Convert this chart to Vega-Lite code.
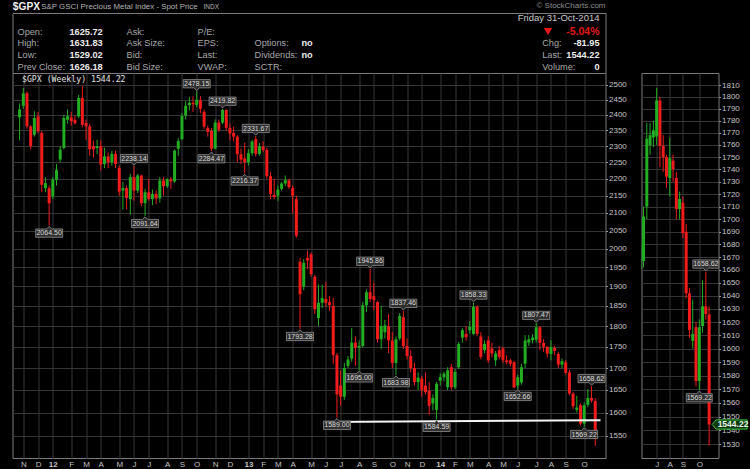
{
  "$schema": "https://vega.github.io/schema/vega-lite/v6.json",
  "background": "#000000",
  "padding": {"left": 11.5, "top": 1, "right": 0, "bottom": 0},
  "config": {
    "view": {"stroke": "#7a7a7a", "strokeWidth": 1},
    "axis": {"labelFont": "Liberation Sans", "labelFontSize": 8, "labelColor": "#c4c4c4", "gridColor": "#363636", "gridWidth": 1, "domain": false, "title": null, "labelOverlap": false}
  },
  "datasets": {
    "ohlc": [
      {"d":"2011-10-31","o":2392,"h":2438,"l":2318,"c":2418},
      {"d":"2011-11-07","o":2430,"h":2490,"l":2420,"c":2472},
      {"d":"2011-11-14","o":2472,"h":2478,"l":2355,"c":2363},
      {"d":"2011-11-21","o":2363,"h":2366,"l":2290,"c":2300},
      {"d":"2011-11-28","o":2336,"h":2412,"l":2330,"c":2390},
      {"d":"2011-12-05","o":2395,"h":2410,"l":2340,"c":2347},
      {"d":"2011-12-12","o":2342,"h":2348,"l":2160,"c":2182},
      {"d":"2011-12-19","o":2172,"h":2205,"l":2160,"c":2187},
      {"d":"2011-12-26","o":2172,"h":2180,"l":2064.5,"c":2128},
      {"d":"2012-01-02","o":2148,"h":2205,"l":2140,"c":2197},
      {"d":"2012-01-09","o":2197,"h":2245,"l":2180,"c":2227},
      {"d":"2012-01-16","o":2258,"h":2300,"l":2250,"c":2289},
      {"d":"2012-01-23","o":2294,"h":2400,"l":2290,"c":2390},
      {"d":"2012-01-30","o":2384,"h":2418,"l":2372,"c":2396},
      {"d":"2012-02-06","o":2392,"h":2410,"l":2365,"c":2380},
      {"d":"2012-02-13","o":2384,"h":2398,"l":2368,"c":2373},
      {"d":"2012-02-20","o":2395,"h":2466,"l":2390,"c":2456},
      {"d":"2012-02-27","o":2456,"h":2496,"l":2360,"c":2368},
      {"d":"2012-03-05","o":2374,"h":2385,"l":2320,"c":2363},
      {"d":"2012-03-12","o":2363,"h":2370,"l":2270,"c":2290},
      {"d":"2012-03-19","o":2300,"h":2318,"l":2265,"c":2290},
      {"d":"2012-03-26","o":2294,"h":2320,"l":2275,"c":2300},
      {"d":"2012-04-02","o":2300,"h":2318,"l":2225,"c":2243},
      {"d":"2012-04-09","o":2245,"h":2295,"l":2232,"c":2268},
      {"d":"2012-04-16","o":2268,"h":2280,"l":2232,"c":2250},
      {"d":"2012-04-23","o":2250,"h":2285,"l":2240,"c":2276},
      {"d":"2012-04-30","o":2276,"h":2286,"l":2232,"c":2245},
      {"d":"2012-05-07","o":2233,"h":2240,"l":2150,"c":2162},
      {"d":"2012-05-14","o":2165,"h":2190,"l":2110,"c":2172},
      {"d":"2012-05-21","o":2172,"h":2180,"l":2110,"c":2143},
      {"d":"2012-05-28","o":2140,"h":2215,"l":2095,"c":2205},
      {"d":"2012-06-04","o":2205,"h":2238.14,"l":2135,"c":2165},
      {"d":"2012-06-11","o":2165,"h":2215,"l":2158,"c":2210},
      {"d":"2012-06-18","o":2210,"h":2212,"l":2120,"c":2128},
      {"d":"2012-06-25","o":2128,"h":2170,"l":2091.64,"c":2160},
      {"d":"2012-07-02","o":2160,"h":2200,"l":2135,"c":2140},
      {"d":"2012-07-09","o":2140,"h":2168,"l":2122,"c":2155},
      {"d":"2012-07-16","o":2155,"h":2165,"l":2125,"c":2142},
      {"d":"2012-07-23","o":2142,"h":2205,"l":2130,"c":2195},
      {"d":"2012-07-30","o":2195,"h":2205,"l":2150,"c":2178},
      {"d":"2012-08-06","o":2178,"h":2202,"l":2172,"c":2198},
      {"d":"2012-08-13","o":2198,"h":2205,"l":2170,"c":2192},
      {"d":"2012-08-20","o":2192,"h":2290,"l":2188,"c":2286},
      {"d":"2012-08-27","o":2292,"h":2325,"l":2270,"c":2316},
      {"d":"2012-09-03","o":2322,"h":2405,"l":2318,"c":2396},
      {"d":"2012-09-10","o":2398,"h":2445,"l":2385,"c":2430},
      {"d":"2012-09-17","o":2432,"h":2460,"l":2415,"c":2440},
      {"d":"2012-09-24","o":2440,"h":2462,"l":2410,"c":2435},
      {"d":"2012-10-01","o":2433,"h":2478.15,"l":2425,"c":2450},
      {"d":"2012-10-08","o":2448,"h":2462,"l":2405,"c":2420},
      {"d":"2012-10-15","o":2410,"h":2418,"l":2355,"c":2362},
      {"d":"2012-10-22","o":2358,"h":2365,"l":2330,"c":2345},
      {"d":"2012-10-29","o":2348,"h":2358,"l":2284.47,"c":2292},
      {"d":"2012-11-05","o":2292,"h":2385,"l":2290,"c":2375},
      {"d":"2012-11-12","o":2375,"h":2385,"l":2345,"c":2352},
      {"d":"2012-11-19","o":2375,"h":2419.82,"l":2370,"c":2416},
      {"d":"2012-11-26","o":2416,"h":2418,"l":2350,"c":2358},
      {"d":"2012-12-03","o":2358,"h":2372,"l":2318,"c":2340},
      {"d":"2012-12-10","o":2342,"h":2362,"l":2315,"c":2330},
      {"d":"2012-12-17","o":2330,"h":2335,"l":2250,"c":2275},
      {"d":"2012-12-24","o":2275,"h":2292,"l":2245,"c":2258},
      {"d":"2012-12-31","o":2262,"h":2310,"l":2216.37,"c":2250},
      {"d":"2013-01-07","o":2250,"h":2290,"l":2240,"c":2278},
      {"d":"2013-01-14","o":2278,"h":2320,"l":2270,"c":2315},
      {"d":"2013-01-21","o":2322,"h":2331.67,"l":2268,"c":2276},
      {"d":"2013-01-28","o":2276,"h":2310,"l":2270,"c":2300},
      {"d":"2013-02-04","o":2298,"h":2315,"l":2280,"c":2288},
      {"d":"2013-02-11","o":2288,"h":2295,"l":2200,"c":2208},
      {"d":"2013-02-18","o":2208,"h":2220,"l":2140,"c":2155},
      {"d":"2013-02-25","o":2152,"h":2200,"l":2140,"c":2146},
      {"d":"2013-03-04","o":2150,"h":2180,"l":2135,"c":2168},
      {"d":"2013-03-11","o":2170,"h":2190,"l":2165,"c":2186},
      {"d":"2013-03-18","o":2186,"h":2210,"l":2178,"c":2196},
      {"d":"2013-03-25","o":2195,"h":2200,"l":2170,"c":2175},
      {"d":"2013-04-01","o":2172,"h":2180,"l":2100,"c":2150},
      {"d":"2013-04-08","o":2140,"h":2150,"l":2030,"c":2036},
      {"d":"2013-04-15","o":1965,"h":1975,"l":1793.28,"c":1880},
      {"d":"2013-04-22","o":1900,"h":1972,"l":1890,"c":1962},
      {"d":"2013-04-29","o":1975,"h":1995,"l":1945,"c":1968},
      {"d":"2013-05-06","o":1985,"h":1990,"l":1925,"c":1932},
      {"d":"2013-05-13","o":1925,"h":1930,"l":1830,"c":1842},
      {"d":"2013-05-20","o":1820,"h":1905,"l":1800,"c":1858},
      {"d":"2013-05-27","o":1858,"h":1905,"l":1845,"c":1870},
      {"d":"2013-06-03","o":1868,"h":1912,"l":1848,"c":1858},
      {"d":"2013-06-10","o":1860,"h":1875,"l":1838,"c":1852},
      {"d":"2013-06-17","o":1850,"h":1870,"l":1710,"c":1730},
      {"d":"2013-06-24","o":1730,"h":1735,"l":1589.0,"c":1640},
      {"d":"2013-07-01","o":1660,"h":1695,"l":1615,"c":1635},
      {"d":"2013-07-08","o":1635,"h":1712,"l":1628,"c":1700},
      {"d":"2013-07-15","o":1705,"h":1728,"l":1700,"c":1720},
      {"d":"2013-07-22","o":1722,"h":1795,"l":1715,"c":1760},
      {"d":"2013-07-29","o":1760,"h":1775,"l":1705,"c":1748},
      {"d":"2013-08-05","o":1748,"h":1765,"l":1695.0,"c":1752},
      {"d":"2013-08-12","o":1752,"h":1860,"l":1748,"c":1852},
      {"d":"2013-08-19","o":1852,"h":1892,"l":1835,"c":1885},
      {"d":"2013-08-26","o":1885,"h":1945.86,"l":1860,"c":1868},
      {"d":"2013-09-02","o":1875,"h":1910,"l":1840,"c":1865},
      {"d":"2013-09-09","o":1860,"h":1862,"l":1760,"c":1768},
      {"d":"2013-09-16","o":1768,"h":1850,"l":1745,"c":1800},
      {"d":"2013-09-23","o":1785,"h":1815,"l":1770,"c":1802},
      {"d":"2013-09-30","o":1800,"h":1830,"l":1735,"c":1765},
      {"d":"2013-10-07","o":1765,"h":1785,"l":1700,"c":1712},
      {"d":"2013-10-14","o":1712,"h":1775,"l":1683.98,"c":1768},
      {"d":"2013-10-21","o":1770,"h":1832,"l":1765,"c":1825},
      {"d":"2013-10-28","o":1822,"h":1837.46,"l":1745,"c":1752},
      {"d":"2013-11-04","o":1752,"h":1770,"l":1720,"c":1728},
      {"d":"2013-11-11","o":1728,"h":1742,"l":1690,"c":1700},
      {"d":"2013-11-18","o":1700,"h":1712,"l":1660,"c":1668},
      {"d":"2013-11-25","o":1668,"h":1690,"l":1650,"c":1678},
      {"d":"2013-12-02","o":1676,"h":1682,"l":1635,"c":1650},
      {"d":"2013-12-09","o":1660,"h":1690,"l":1640,"c":1645},
      {"d":"2013-12-16","o":1648,"h":1668,"l":1595,"c":1615},
      {"d":"2013-12-23","o":1620,"h":1640,"l":1605,"c":1632},
      {"d":"2013-12-30","o":1606,"h":1668,"l":1584.59,"c":1664},
      {"d":"2014-01-06","o":1671,"h":1688,"l":1660,"c":1679},
      {"d":"2014-01-13","o":1679,"h":1692,"l":1670,"c":1687},
      {"d":"2014-01-20","o":1656,"h":1702,"l":1650,"c":1695},
      {"d":"2014-01-27","o":1702,"h":1710,"l":1650,"c":1656},
      {"d":"2014-02-03","o":1656,"h":1698,"l":1652,"c":1691},
      {"d":"2014-02-10","o":1702,"h":1762,"l":1698,"c":1757},
      {"d":"2014-02-17","o":1772,"h":1795,"l":1760,"c":1790},
      {"d":"2014-02-24","o":1781,"h":1800,"l":1765,"c":1773},
      {"d":"2014-03-03","o":1790,"h":1812,"l":1782,"c":1798},
      {"d":"2014-03-10","o":1781,"h":1858.33,"l":1778,"c":1848},
      {"d":"2014-03-17","o":1848,"h":1852,"l":1775,"c":1781},
      {"d":"2014-03-24","o":1775,"h":1785,"l":1720,"c":1726},
      {"d":"2014-03-31","o":1742,"h":1765,"l":1735,"c":1757},
      {"d":"2014-04-07","o":1765,"h":1775,"l":1712,"c":1718},
      {"d":"2014-04-14","o":1746,"h":1760,"l":1725,"c":1734},
      {"d":"2014-04-21","o":1718,"h":1740,"l":1705,"c":1734},
      {"d":"2014-04-28","o":1742,"h":1752,"l":1720,"c":1726},
      {"d":"2014-05-05","o":1746,"h":1750,"l":1712,"c":1718},
      {"d":"2014-05-12","o":1718,"h":1730,"l":1708,"c":1714},
      {"d":"2014-05-19","o":1718,"h":1722,"l":1704,"c":1710},
      {"d":"2014-05-26","o":1714,"h":1716,"l":1654,"c":1656},
      {"d":"2014-06-02","o":1660,"h":1685,"l":1652.66,"c":1679},
      {"d":"2014-06-09","o":1667,"h":1710,"l":1662,"c":1702},
      {"d":"2014-06-16","o":1710,"h":1778,"l":1700,"c":1765},
      {"d":"2014-06-23","o":1760,"h":1778,"l":1752,"c":1768},
      {"d":"2014-06-30","o":1766,"h":1780,"l":1758,"c":1772},
      {"d":"2014-07-07","o":1767,"h":1807.47,"l":1760,"c":1797},
      {"d":"2014-07-14","o":1797,"h":1800,"l":1742,"c":1759},
      {"d":"2014-07-21","o":1759,"h":1768,"l":1738,"c":1750},
      {"d":"2014-07-28","o":1750,"h":1752,"l":1725,"c":1734},
      {"d":"2014-08-04","o":1733,"h":1766,"l":1718,"c":1749},
      {"d":"2014-08-11","o":1747,"h":1752,"l":1730,"c":1740},
      {"d":"2014-08-18","o":1733,"h":1738,"l":1700,"c":1708},
      {"d":"2014-08-25","o":1708,"h":1722,"l":1700,"c":1716},
      {"d":"2014-09-01","o":1713,"h":1718,"l":1685,"c":1689},
      {"d":"2014-09-08","o":1690,"h":1696,"l":1638,"c":1642},
      {"d":"2014-09-15","o":1642,"h":1646,"l":1608,"c":1614},
      {"d":"2014-09-22","o":1606,"h":1637,"l":1600,"c":1611},
      {"d":"2014-09-29","o":1616,"h":1620,"l":1572,"c":1576},
      {"d":"2014-10-06","o":1576,"h":1622,"l":1569.22,"c":1616},
      {"d":"2014-10-13","o":1617,"h":1652,"l":1612,"c":1632},
      {"d":"2014-10-20","o":1632,"h":1658.62,"l":1622,"c":1626.18},
      {"d":"2014-10-27","o":1625.72,"h":1631.83,"l":1529.02,"c":1544.22}
    ],
    "pivots": [
      {"d":"2011-12-26","v":2064.50,"k":"low"},
      {"d":"2012-06-04","v":2238.14,"k":"high"},
      {"d":"2012-06-25","v":2091.64,"k":"low"},
      {"d":"2012-10-01","v":2478.15,"k":"high"},
      {"d":"2012-10-29","v":2284.47,"k":"low"},
      {"d":"2012-11-19","v":2419.82,"k":"high"},
      {"d":"2012-12-31","v":2216.37,"k":"low"},
      {"d":"2013-01-21","v":2331.67,"k":"high"},
      {"d":"2013-04-15","v":1793.28,"k":"low"},
      {"d":"2013-06-24","v":1589.00,"k":"low"},
      {"d":"2013-08-05","v":1695.00,"k":"low"},
      {"d":"2013-08-26","v":1945.86,"k":"high"},
      {"d":"2013-10-14","v":1683.98,"k":"low"},
      {"d":"2013-10-28","v":1837.46,"k":"high"},
      {"d":"2013-12-30","v":1584.59,"k":"low"},
      {"d":"2014-03-10","v":1858.33,"k":"high"},
      {"d":"2014-06-02","v":1652.66,"k":"low"},
      {"d":"2014-07-07","v":1807.47,"k":"high"},
      {"d":"2014-10-06","v":1569.22,"k":"low"},
      {"d":"2014-10-20","v":1658.62,"k":"high"}
    ],
    "support": [
      {"d":"2013-06-02","p":1579.5},
      {"d":"2014-11-06","p":1583.5}
    ],
    "header": [
      {"row":0,"col":0,"role":"symbol","text":"$GPX"},
      {"row":0,"col":2,"role":"name","text":"S&P GSCI Precious Metal Index - Spot Price"},
      {"row":0,"col":6,"role":"exch","text":"INDX"},
      {"row":0,"col":11,"role":"credit","text":"© StockCharts.com"},
      {"row":1,"col":11,"role":"date","text":"Friday  31-Oct-2014"},
      {"row":2,"col":1,"role":"label","text":"Open:"},
      {"row":2,"col":3,"role":"value","text":"1625.72"},
      {"row":2,"col":4,"role":"label","text":"Ask:"},
      {"row":2,"col":5,"role":"label","text":"P/E:"},
      {"row":2,"col":10,"role":"arrow","text":"down"},
      {"row":2,"col":11,"role":"change","text":"-5.04%"},
      {"row":3,"col":1,"role":"label","text":"High:"},
      {"row":3,"col":3,"role":"value","text":"1631.83"},
      {"row":3,"col":4,"role":"label","text":"Ask Size:"},
      {"row":3,"col":5,"role":"label","text":"EPS:"},
      {"row":3,"col":7,"role":"label","text":"Options:"},
      {"row":3,"col":8,"role":"value","text":"no"},
      {"row":3,"col":9,"role":"label","text":"Chg:"},
      {"row":3,"col":11,"role":"quote","text":"-81.95"},
      {"row":4,"col":1,"role":"label","text":"Low:"},
      {"row":4,"col":3,"role":"value","text":"1529.02"},
      {"row":4,"col":4,"role":"label","text":"Bid:"},
      {"row":4,"col":5,"role":"label","text":"Last:"},
      {"row":4,"col":7,"role":"label","text":"Dividends:"},
      {"row":4,"col":8,"role":"value","text":"no"},
      {"row":4,"col":9,"role":"label","text":"Last:"},
      {"row":4,"col":11,"role":"quote","text":"1544.22"},
      {"row":5,"col":1,"role":"label","text":"Prev Close:"},
      {"row":5,"col":3,"role":"value","text":"1626.18"},
      {"row":5,"col":4,"role":"label","text":"Bid Size:"},
      {"row":5,"col":5,"role":"label","text":"VWAP:"},
      {"row":5,"col":7,"role":"label","text":"SCTR:"},
      {"row":5,"col":9,"role":"label","text":"Volume:"},
      {"row":5,"col":11,"role":"quote","text":"0"}
    ]
  },
  "vconcat": [
    {
      "width": 593,
      "height": 60,
      "data": {"name": "header"},
      "encoding": {
        "x": {"field": "col", "type": "quantitative", "axis": null,
              "scale": {"domain": [0,1,2,3,4,5,6,7,8,9,10,11], "range": [0.3,5,28.7,57,114,185,191,242,289,529.7,535.5,587], "zero": false, "nice": false}},
        "y": {"field": "row", "type": "quantitative", "axis": null,
              "scale": {"domain": [0,1,2,3,4,5], "range": [-6.3,5.3,18.7,30.3,42,53.7], "zero": false, "nice": false}}
      },
      "layer": [
        {"data": {"values": [{"edge": "top"}]}, "mark": {"type": "rule", "color": "#7a7a7a", "strokeWidth": 1},
         "encoding": {"x": {"datum": -0.064, "type": "quantitative"}, "x2": {"datum": 11.1165}, "y": {"datum": 0.543, "type": "quantitative"}}},
        {"data": {"values": [{"edge": "left"}]}, "mark": {"type": "rule", "color": "#7a7a7a", "strokeWidth": 1},
         "encoding": {"x": {"datum": -0.064, "type": "quantitative"}, "y": {"datum": 0.543, "type": "quantitative"}, "y2": {"datum": 5.538}}},
        {"data": {"values": [{"edge": "right"}]}, "mark": {"type": "rule", "color": "#7a7a7a", "strokeWidth": 1},
         "encoding": {"x": {"datum": 11.1165, "type": "quantitative"}, "y": {"datum": 0.543, "type": "quantitative"}, "y2": {"datum": 5.538}}},
        {"transform": [{"filter": "datum.role == 'symbol'"}], "mark": {"type": "text", "align": "left", "baseline": "middle", "font": "Liberation Sans", "fontSize": 10.2, "fontWeight": "bold", "color": "#f2f2f2"}, "encoding": {"text": {"field": "text"}}},
        {"transform": [{"filter": "datum.role == 'name'"}], "mark": {"type": "text", "align": "left", "baseline": "middle", "font": "Liberation Sans", "fontSize": 7.9, "color": "#b4b4b4"}, "encoding": {"text": {"field": "text"}}},
        {"transform": [{"filter": "datum.role == 'exch'"}], "mark": {"type": "text", "align": "left", "baseline": "middle", "font": "Liberation Sans", "fontSize": 6.5, "color": "#b4b4b4"}, "encoding": {"text": {"field": "text"}}},
        {"transform": [{"filter": "datum.role == 'credit'"}], "mark": {"type": "text", "align": "right", "baseline": "middle", "dx": 6, "dy": -1, "font": "Liberation Sans", "fontSize": 8, "color": "#8e8e8e"}, "encoding": {"text": {"field": "text"}}},
        {"transform": [{"filter": "datum.role == 'date'"}], "mark": {"type": "text", "align": "right", "baseline": "middle", "font": "Liberation Sans", "fontSize": 9.5, "color": "#c8c8c8"}, "encoding": {"text": {"field": "text"}}},
        {"transform": [{"filter": "datum.role == 'label'"}], "mark": {"type": "text", "align": "left", "baseline": "middle", "font": "Liberation Sans", "fontSize": 9.2, "color": "#a8a8a8"}, "encoding": {"text": {"field": "text"}}},
        {"transform": [{"filter": "datum.role == 'value'"}], "mark": {"type": "text", "align": "left", "baseline": "middle", "font": "Liberation Sans", "fontSize": 9.2, "fontWeight": "bold", "color": "#ececec"}, "encoding": {"text": {"field": "text"}}},
        {"transform": [{"filter": "datum.role == 'quote'"}], "mark": {"type": "text", "align": "right", "baseline": "middle", "font": "Liberation Sans", "fontSize": 9.2, "fontWeight": "bold", "color": "#ececec"}, "encoding": {"text": {"field": "text"}}},
        {"transform": [{"filter": "datum.role == 'change'"}], "mark": {"type": "text", "align": "right", "baseline": "middle", "font": "Liberation Sans", "fontSize": 10.5, "fontWeight": "bold", "color": "#e01818"}, "encoding": {"text": {"field": "text"}}},
        {"transform": [{"filter": "datum.role == 'arrow'"}], "mark": {"type": "point", "shape": "triangle-down", "size": 70, "filled": true, "color": "#e01818", "opacity": 1}}
      ]
    },
    {
      "hconcat": [
        {
          "width": 593,
          "height": 385,
          "data": {"name": "ohlc"},
          "title": {"text": "$GPX (Weekly) 1544.22", "anchor": "start", "frame": "group", "orient": "top", "offset": -15, "dx": 9.5, "baseline": "middle", "font": "DejaVu Sans Mono", "fontSize": 8.2, "fontWeight": "normal", "color": "#e2e2e2"},
          "encoding": {
            "x": {"field": "d", "type": "temporal",
                  "scale": {"type": "utc", "domain": [{"year":2011,"month":10,"date":27,"utc":true},{"year":2014,"month":11,"date":6,"utc":true}]},
                  "axis": {"grid": true, "ticks": false, "labelPadding": 2,
                           "labelExpr": "utcmonth(datum.value) == 0 ? utcFormat(datum.value, '%y') : slice(utcFormat(datum.value, '%b'), 0, 1)",
                           "labelFontWeight": {"condition": {"test": "utcmonth(datum.value) == 0", "value": "bold"}, "value": "normal"},
                           "values": [
                             {"year":2011,"month":11,"date":7,"utc":true},{"year":2011,"month":12,"date":5,"utc":true},
                             {"year":2012,"month":1,"date":2,"utc":true},{"year":2012,"month":2,"date":6,"utc":true},{"year":2012,"month":3,"date":5,"utc":true},{"year":2012,"month":4,"date":2,"utc":true},{"year":2012,"month":5,"date":7,"utc":true},{"year":2012,"month":6,"date":4,"utc":true},{"year":2012,"month":7,"date":2,"utc":true},{"year":2012,"month":8,"date":6,"utc":true},{"year":2012,"month":9,"date":3,"utc":true},{"year":2012,"month":10,"date":1,"utc":true},{"year":2012,"month":11,"date":5,"utc":true},{"year":2012,"month":12,"date":3,"utc":true},
                             {"year":2013,"month":1,"date":7,"utc":true},{"year":2013,"month":2,"date":4,"utc":true},{"year":2013,"month":3,"date":4,"utc":true},{"year":2013,"month":4,"date":1,"utc":true},{"year":2013,"month":5,"date":6,"utc":true},{"year":2013,"month":6,"date":3,"utc":true},{"year":2013,"month":7,"date":1,"utc":true},{"year":2013,"month":8,"date":5,"utc":true},{"year":2013,"month":9,"date":2,"utc":true},{"year":2013,"month":10,"date":7,"utc":true},{"year":2013,"month":11,"date":4,"utc":true},{"year":2013,"month":12,"date":2,"utc":true},
                             {"year":2014,"month":1,"date":6,"utc":true},{"year":2014,"month":2,"date":3,"utc":true},{"year":2014,"month":3,"date":3,"utc":true},{"year":2014,"month":4,"date":7,"utc":true},{"year":2014,"month":5,"date":5,"utc":true},{"year":2014,"month":6,"date":2,"utc":true},{"year":2014,"month":7,"date":7,"utc":true},{"year":2014,"month":8,"date":4,"utc":true},{"year":2014,"month":9,"date":1,"utc":true},{"year":2014,"month":10,"date":6,"utc":true}
                           ]}}
          },
          "layer": [
            {
              "mark": {"type": "rule", "strokeWidth": 1},
              "encoding": {
                "y": {"field": "l", "type": "quantitative",
                      "scale": {"type": "log", "domain": [1504, 2541], "nice": false},
                      "axis": {"orient": "right", "grid": true, "tickSize": 2, "tickColor": "#9a9a9a", "labelPadding": 1, "format": "d",
                               "values": [1550,1600,1650,1700,1750,1800,1850,1900,1950,2000,2050,2100,2150,2200,2250,2300,2350,2400,2450,2500]}},
                "y2": {"field": "h"},
                "color": {"condition": {"test": "datum.c >= datum.o", "value": "#22ad22"}, "value": "#f01c1c"}
              }
            },
            {
              "mark": {"type": "bar", "width": 3},
              "encoding": {
                "y": {"field": "o", "type": "quantitative"},
                "y2": {"field": "c"},
                "color": {"condition": {"test": "datum.c >= datum.o", "value": "#22ad22"}, "value": "#f01c1c"}
              }
            },
            {
              "data": {"name": "support"},
              "mark": {"type": "line", "color": "#f4f4f4", "strokeWidth": 2},
              "encoding": {"y": {"field": "p", "type": "quantitative"}}
            },
            {
              "data": {"name": "pivots"},
              "transform": [{"filter": "datum.k == 'high'"}],
              "mark": {"type": "point", "shape": "M-13.5,-11.8L13.5,-11.8L13.5,-3.5L2.6,-3.5L0,-0.9L-2.6,-3.5L-13.5,-3.5Z", "size": 4, "fill": "#2f2f2f", "stroke": "#8e8e8e", "strokeWidth": 0.8, "opacity": 1, "fillOpacity": 1},
              "encoding": {"y": {"field": "v", "type": "quantitative"}}
            },
            {
              "data": {"name": "pivots"},
              "transform": [{"filter": "datum.k == 'low'"}],
              "mark": {"type": "point", "shape": "M-13.5,11.8L13.5,11.8L13.5,3.5L2.6,3.5L0,0.9L-2.6,3.5L-13.5,3.5Z", "size": 4, "fill": "#2f2f2f", "stroke": "#8e8e8e", "strokeWidth": 0.8, "opacity": 1, "fillOpacity": 1},
              "encoding": {"y": {"field": "v", "type": "quantitative"}}
            },
            {
              "data": {"name": "pivots"},
              "transform": [{"filter": "datum.k == 'high'"}],
              "mark": {"type": "text", "dy": -7.6, "baseline": "middle", "align": "center", "font": "Liberation Sans", "fontSize": 7, "color": "#dadada"},
              "encoding": {"y": {"field": "v", "type": "quantitative"}, "text": {"field": "v", "type": "quantitative", "format": ".2f"}}
            },
            {
              "data": {"name": "pivots"},
              "transform": [{"filter": "datum.k == 'low'"}],
              "mark": {"type": "text", "dy": 7.8, "baseline": "middle", "align": "center", "font": "Liberation Sans", "fontSize": 7, "color": "#dadada"},
              "encoding": {"y": {"field": "v", "type": "quantitative"}, "text": {"field": "v", "type": "quantitative", "format": ".2f"}}
            },
            {
              "data": {"values": [{"item": "legend icon"}]},
              "mark": {"type": "point", "shape": "square", "size": 30, "filled": true, "color": "#2e9a2e", "opacity": 1},
              "encoding": {"x": {"datum": {"year":2011,"month":11,"date":5,"utc":true}, "type": "temporal"}, "y": {"datum": 2518, "type": "quantitative"}}
            }
          ]
        },
        {
          "width": 77,
          "height": 385,
          "data": {"name": "ohlc"},
          "encoding": {
            "x": {"field": "d", "type": "temporal",
                  "scale": {"type": "utc", "domain": [{"year":2014,"month":6,"date":15,"hours":8,"utc":true},{"year":2014,"month":11,"date":5,"hours":8,"utc":true}]},
                  "axis": {"grid": true, "ticks": false, "labelPadding": 2,
                           "labelExpr": "slice(utcFormat(datum.value, '%b'), 0, 1)",
                           "values": [{"year":2014,"month":7,"date":7,"utc":true},{"year":2014,"month":8,"date":4,"utc":true},{"year":2014,"month":9,"date":1,"utc":true},{"year":2014,"month":10,"date":6,"utc":true}]}}
          },
          "layer": [
            {
              "mark": {"type": "rule", "strokeWidth": 1, "clip": true},
              "encoding": {
                "y": {"field": "l", "type": "quantitative",
                      "scale": {"type": "log", "domain": [1520.2, 1820.2], "nice": false},
                      "axis": {"orient": "right", "grid": true, "tickSize": 2, "tickColor": "#9a9a9a", "labelPadding": 1, "format": "d",
                               "values": [1530,1540,1550,1560,1570,1580,1590,1600,1610,1620,1630,1640,1650,1660,1670,1680,1690,1700,1710,1720,1730,1740,1750,1760,1770,1780,1790,1800,1810]}},
                "y2": {"field": "h"},
                "color": {"condition": {"test": "datum.c >= datum.o", "value": "#22ad22"}, "value": "#f01c1c"}
              }
            },
            {
              "mark": {"type": "bar", "width": 3, "clip": true},
              "encoding": {
                "y": {"field": "o", "type": "quantitative"},
                "y2": {"field": "c"},
                "color": {"condition": {"test": "datum.c >= datum.o", "value": "#22ad22"}, "value": "#f01c1c"}
              }
            },
            {
              "data": {"name": "pivots"},
              "transform": [{"filter": {"field": "d", "gte": {"year":2014,"month":9,"date":1,"utc":true}}}, {"filter": "datum.k == 'high'"}],
              "mark": {"type": "point", "shape": "M-13,-11.8L13,-11.8L13,-3.5L2.6,-3.5L0,-0.9L-2.6,-3.5L-13,-3.5Z", "size": 4, "fill": "#2f2f2f", "stroke": "#8e8e8e", "strokeWidth": 0.8, "opacity": 1, "fillOpacity": 1},
              "encoding": {"y": {"field": "v", "type": "quantitative"}}
            },
            {
              "data": {"name": "pivots"},
              "transform": [{"filter": {"field": "d", "gte": {"year":2014,"month":9,"date":1,"utc":true}}}, {"filter": "datum.k == 'low'"}],
              "mark": {"type": "point", "shape": "M-13,11.8L13,11.8L13,3.5L2.6,3.5L0,0.9L-2.6,3.5L-13,3.5Z", "size": 4, "fill": "#2f2f2f", "stroke": "#8e8e8e", "strokeWidth": 0.8, "opacity": 1, "fillOpacity": 1},
              "encoding": {"y": {"field": "v", "type": "quantitative"}}
            },
            {
              "data": {"name": "pivots"},
              "transform": [{"filter": {"field": "d", "gte": {"year":2014,"month":9,"date":1,"utc":true}}}, {"filter": "datum.k == 'high'"}],
              "mark": {"type": "text", "dy": -7.6, "baseline": "middle", "align": "center", "font": "Liberation Sans", "fontSize": 7, "color": "#dadada"},
              "encoding": {"y": {"field": "v", "type": "quantitative"}, "text": {"field": "v", "type": "quantitative", "format": ".2f"}}
            },
            {
              "data": {"name": "pivots"},
              "transform": [{"filter": {"field": "d", "gte": {"year":2014,"month":9,"date":1,"utc":true}}}, {"filter": "datum.k == 'low'"}],
              "mark": {"type": "text", "dy": 7.8, "baseline": "middle", "align": "center", "font": "Liberation Sans", "fontSize": 7, "color": "#dadada"},
              "encoding": {"y": {"field": "v", "type": "quantitative"}, "text": {"field": "v", "type": "quantitative", "format": ".2f"}}
            },
            {
              "transform": [{"filter": {"field": "d", "equal": {"year":2014,"month":10,"date":27,"utc":true}}}],
              "mark": {"type": "point", "shape": "M3,0L7,-4.6L38,-4.6L38,4.6L7,4.6Z", "size": 4, "fill": "#0f3a0f", "stroke": "#3cc43c", "strokeWidth": 1, "opacity": 1, "fillOpacity": 1},
              "encoding": {"y": {"field": "c", "type": "quantitative"}}
            },
            {
              "transform": [{"filter": {"field": "d", "equal": {"year":2014,"month":10,"date":27,"utc":true}}}],
              "mark": {"type": "text", "align": "left", "baseline": "middle", "dx": 8.5, "font": "Liberation Sans", "fontSize": 8.5, "fontWeight": "bold", "color": "#e6f6e6"},
              "encoding": {"y": {"field": "c", "type": "quantitative"}, "text": {"field": "c", "type": "quantitative", "format": ".2f"}}
            }
          ]
        }
      ],
      "spacing": 36,
      "bounds": "flush"
    }
  ],
  "spacing": 0,
  "bounds": "flush"
}
